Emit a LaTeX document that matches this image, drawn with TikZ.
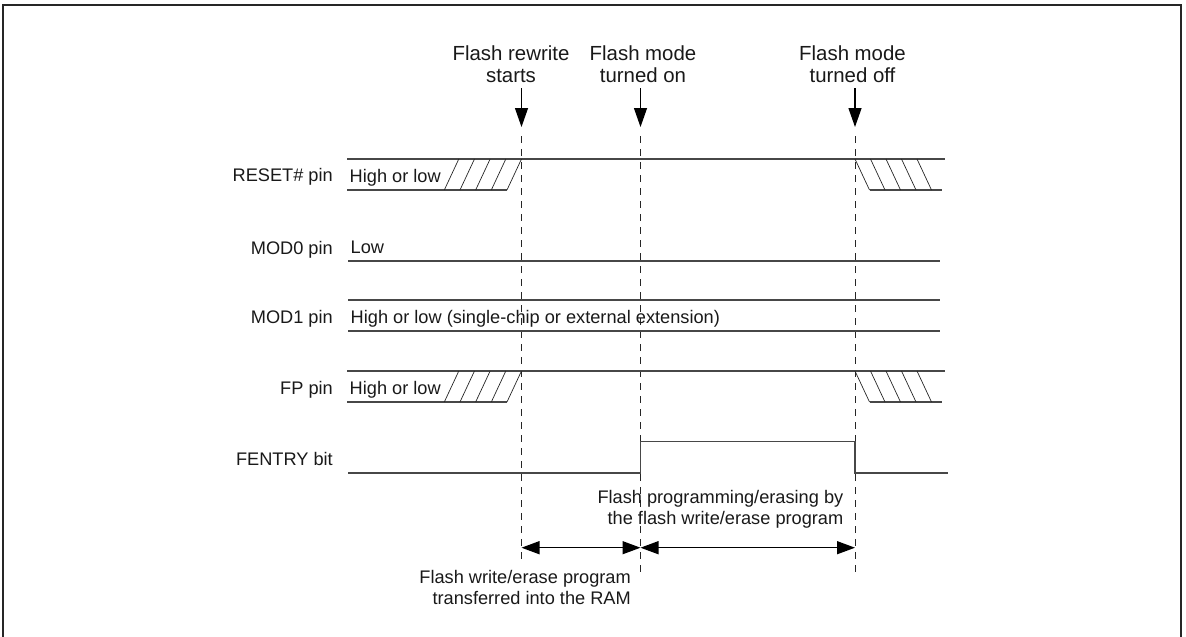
\documentclass[tikz,border=0pt]{standalone}
\usepackage{fontspec}
\setmainfont{Liberation Sans}
\usetikzlibrary{arrows.meta}
\begin{document}
\begin{tikzpicture}[x=1pt,y=-1pt,
  sig/.style={draw=black!72, line width=1.1pt},
  hatchln/.style={draw=black!85, line width=0.7pt},
  vguide/.style={draw=black!85, line width=0.8pt, dash pattern=on 7pt off 6pt},
  evt/.style={draw=black, line width=1.3pt, -{Triangle[length=19pt,width=13pt]}},
  spanarr/.style={draw=black, line width=1.3pt, {Triangle[length=18pt,width=13pt]}-{Triangle[length=18pt,width=13pt]}},
  lbl/.style={inner sep=0pt, font=\fontsize{18.2}{21}\selectfont, text=black!90},
  toplbl/.style={inner sep=0pt, font=\fontsize{20.4}{23}\selectfont, text=black!90},
]
\useasboundingbox (0,0) rectangle (1186,637);
% frame
\draw[line width=2pt, black!85] (3.3,650) -- (3.3,5.3) -- (1181,5.3) -- (1181,650);

% event labels
\node[toplbl, anchor=base] (l1a) at (511,60) {Flash rewrite};
\node[toplbl, anchor=base] (l1b) at (511,82) {starts};
\node[toplbl, anchor=base] (l2a) at (643,60) {Flash mode};
\node[toplbl, anchor=base] (l2b) at (643,82) {turned on};
\node[toplbl, anchor=base] (l3a) at (852.5,60) {Flash mode};
\node[toplbl, anchor=base] (l3b) at (852.5,82) {turned off};

% event arrows
\coordinate (e1s) at (521.5,88.3);  \coordinate (e1t) at (521.5,127);
\coordinate (e2s) at (640.5,88.3);  \coordinate (e2t) at (640.5,127);
\coordinate (e3s) at (855,88.3);    \coordinate (e3t) at (855,127);
\draw[evt] (e1s) -- (e1t);
\draw[evt] (e2s) -- (e2t);
\draw[evt] (e3s) -- (e3t);

% dashed guides
\coordinate (g1a) at (521.5,136); \coordinate (g1b) at (521.5,562);
\coordinate (g2a) at (640.5,136); \coordinate (g2b) at (640.5,575);
\coordinate (g3a) at (855,136);   \coordinate (g3b) at (855,575);
\draw[vguide] (g1a) -- (g1b);
\draw[vguide] (g2a) -- (g2b);
\draw[vguide] (g3a) -- (g3b);

% signal names
\node[lbl, anchor=base east] (nreset) at (333,181.5) {RESET\# pin};
\node[lbl, anchor=base east] (nmod0) at (333,254) {MOD0 pin};
\node[lbl, anchor=base east] (nmod1) at (333,323) {MOD1 pin};
\node[lbl, anchor=base east] (nfp) at (333,394.5) {FP pin};
\node[lbl, anchor=base east] (nfentry) at (333,465) {FENTRY bit};

% RESET# pin
\draw[sig] (347,159) -- (945,159);
\draw[sig] (347,190) -- (507,190);
\draw[sig] (869.5,190) -- (942,190);
\foreach \k in {0,...,4} \draw[hatchln] ({444.3+15.67*\k},190) -- ({458.8+15.67*\k},159);
\foreach \k in {0,...,4} \draw[hatchln] ({855+15.5*\k},159) -- ({869.5+15.5*\k},190);
\node[lbl, anchor=base west] (treset) at (349.5,182.5) {High or low};

% MOD0 pin
\draw[sig] (348,261) -- (940,261);
\node[lbl, anchor=base west] (tmod0) at (350.5,253.5) {Low};

% MOD1 pin
\draw[sig] (348,300) -- (940,300);
\draw[sig] (348,331) -- (940,331);
\node[lbl, anchor=base west] (tmod1) at (350.5,323) {High or low (single-chip or external extension)};

% FP pin
\draw[sig] (347,371) -- (945,371);
\draw[sig] (347,402) -- (507,402);
\draw[sig] (869.5,402) -- (942,402);
\foreach \k in {0,...,4} \draw[hatchln] ({444.3+15.67*\k},402) -- ({458.8+15.67*\k},371);
\foreach \k in {0,...,4} \draw[hatchln] ({855+15.5*\k},371) -- ({869.5+15.5*\k},402);
\node[lbl, anchor=base west] (tfp) at (349.5,394.5) {High or low};

% FENTRY bit
\draw[sig] (348,473) -- (640.5,473) -- (640.5,441.5) -- (855,441.5) -- (855,473) -- (948,473);

% span arrows
\coordinate (s1) at (521.5,547.7);
\coordinate (s2) at (640.5,547.7);
\coordinate (s3) at (855,547.7);
\draw[spanarr] (s1) -- (s2);
\draw[spanarr] (s2) -- (s3);

% span labels
\node[lbl, anchor=base east] (p1a) at (843.5,503.3) {Flash programming/erasing by};
\node[lbl, anchor=base east] (p1b) at (843.5,524.5) {the flash write/erase program};
\node[lbl, anchor=base east] (p2a) at (631,583.3) {Flash write/erase program};
\node[lbl, anchor=base east] (p2b) at (631,604.5) {transferred into the RAM};
\end{tikzpicture}
\end{document}
